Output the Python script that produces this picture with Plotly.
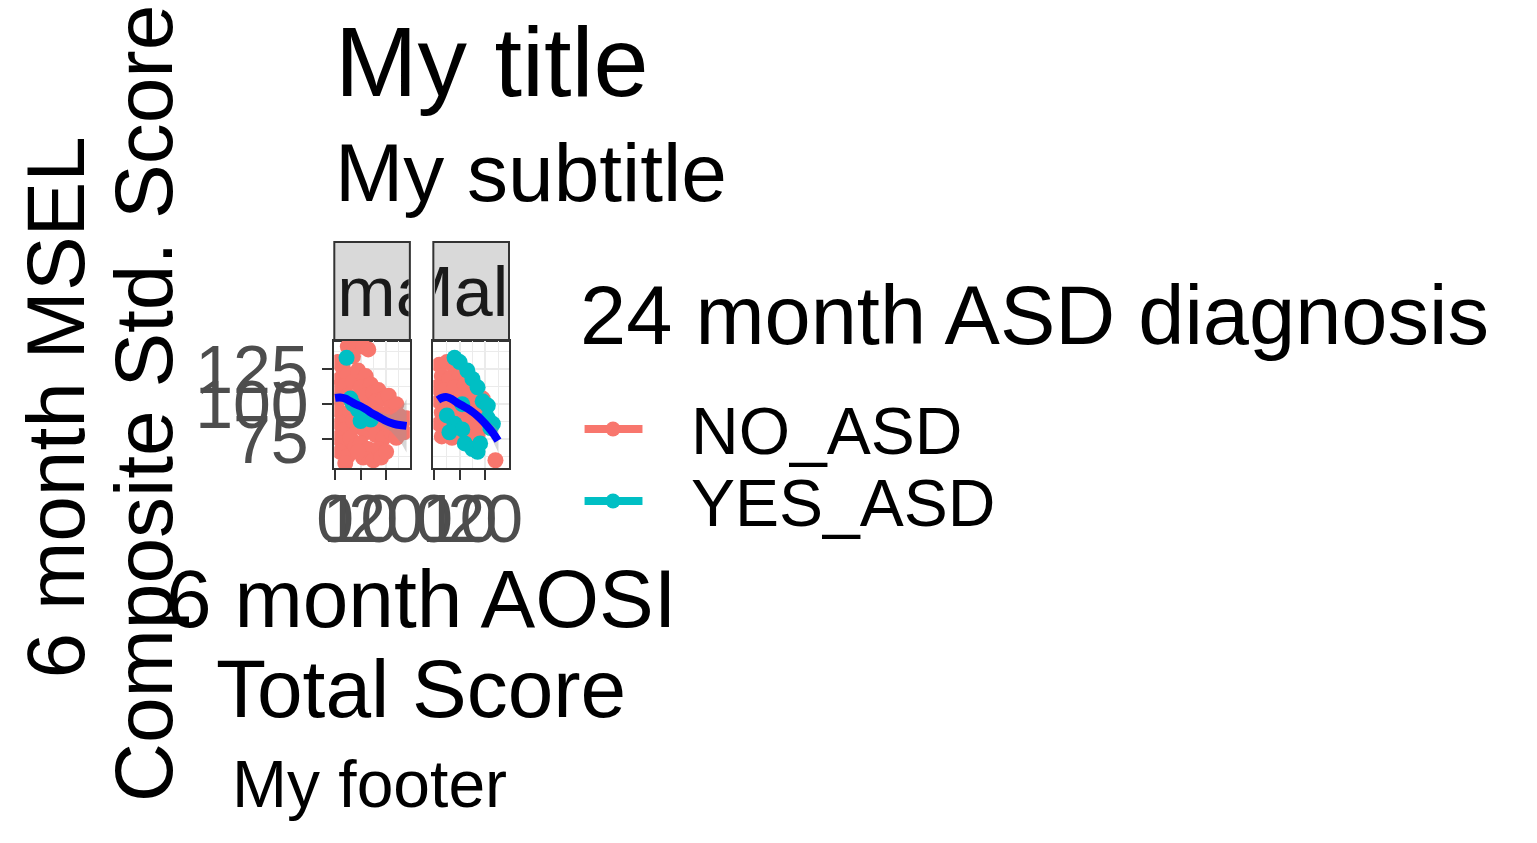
import plotly.graph_objects as go

# ---------------- data ----------------
female_x = [1, 3, 2, 5, 1, 4, 7, 2, 5, 1, 3, 6, 2, 4, 7, 1, 3, 6, 2, 5, 8, 4,
            9, 12, 10, 14, 9, 12, 15, 10, 13, 9, 12, 14, 10, 13, 11, 15, 9,
            17, 16, 19, 17, 18, 16, 19, 17, 18, 20,
            21, 22, 24, 21, 23, 25, 22, 24,
            26, 27, 28,
            5, 8, 11, 13, 7,
            4.5, 7, 9, 12, 14, 6, 10]
female_y = [130, 126, 118, 121, 112, 113, 116, 104, 106, 96, 92, 95, 86, 82, 88, 76, 72, 76, 66, 63, 70, 58,
            124, 120, 112, 114, 104, 106, 108, 94, 96, 84, 80, 86, 72, 68, 62, 60, 66,
            110, 102, 104, 94, 86, 78, 76, 68, 62, 66,
            106, 98, 100, 90, 88, 92, 80, 76,
            86, 80, 90,
            141, 140, 141, 139, 134,
            133, 100, 96, 92, 89, 104, 88]
female_dx = ["NO_ASD"] * 65 + ["YES_ASD"] * 7

male_x = [2, 5, 8, 3, 6, 10, 1, 4, 8, 12, 2, 6, 10, 14, 16, 19, 3, 7, 12, 15, 18, 2, 5, 9, 13, 16,
          3, 7, 10, 14, 17, 24, 20,
          8, 10, 13, 15, 17, 19, 21, 21, 23, 22, 5, 8, 11, 6, 12, 15, 17, 18, 11]
male_y = [128, 130, 126, 120, 118, 120, 112, 110, 112, 114, 102, 104, 104, 106, 100, 104, 94, 96, 96, 92, 94,
          86, 84, 88, 86, 84, 77, 76, 78, 76, 78, 60, 98,
          133, 130, 124, 118, 112, 102, 99, 90, 86, 83, 92, 86, 82, 80, 72, 68, 66, 72, 100]
male_dx = ["NO_ASD"] * 33 + ["YES_ASD"] * 19

# loess fit
female_fit_x = [0, 2, 4, 6, 8, 10, 12, 14, 16, 18, 20, 22, 24, 26, 28]
female_fit_y = [104.5, 104.8, 104, 102, 100, 98.5, 96.5, 94, 92, 90, 88, 86.5, 85.5, 85, 84.5]
female_fit_se = [4, 3, 2.5, 2.5, 2.5, 2.5, 3, 3, 3.5, 4, 5, 6, 9, 13, 19]

male_fit_x = [1.5, 3, 5, 7, 9, 11, 13, 15, 17, 19, 21, 23, 25]
male_fit_y = [103, 104.5, 105, 103.5, 101, 99, 97, 94.5, 91.5, 88, 84, 79.5, 74]
male_fit_se = [4, 3, 2.5, 2.5, 2.5, 2.5, 2.5, 3, 3, 3.5, 4.5, 6, 8]

facets = ["Female", "Male"]
groups = ["NO_ASD", "YES_ASD"]
group_colors = {"NO_ASD": "#F8766D", "YES_ASD": "#00BFC4"}

x_ticks = [0, 10, 20]
y_ticks = [75, 100, 125]
x_range = [-0.3, 29.3]
y_range = [54.5, 145]

title = "My title"
subtitle = "My subtitle"
caption = "My footer"
x_title = ["6 month AOSI", "Total Score"]
y_title = ["6 month MSEL", "Composite Std. Score"]
legend_title = "24 month ASD diagnosis"

# ---------------- layout helpers ----------------
W, H = 1537, 843
PL, PR, PT, PB = 334.0, 509.3, 242.0, 468.0
FONT = "Liberation Sans, Arial, sans-serif"


def px(x):
    return (x - PL) / (PR - PL)


def py(y):
    return (PB - y) / (PB - PT)


panel_top = py(341)
dom1 = [px(334.3), px(410)]
dom2 = [px(433.5), px(509.3)]

fig = go.Figure()

panels = [
    ("x", "y", female_x, female_y, female_dx, female_fit_x, female_fit_y, female_fit_se),
    ("x2", "y2", male_x, male_y, male_dx, male_fit_x, male_fit_y, male_fit_se),
]
for xa, ya, xs, ys, ds, fx, fy, fse in panels:
    fig.add_trace(go.Scatter(
        x=xs, y=ys, mode="markers", xaxis=xa, yaxis=ya, showlegend=False,
        marker=dict(size=16, color=[group_colors[d] for d in ds], line=dict(width=0)),
        hoverinfo="skip"))
    lo = [a - b for a, b in zip(fy, fse)]
    hi = [a + b for a, b in zip(fy, fse)]
    fig.add_trace(go.Scatter(
        x=fx + fx[::-1], y=hi + lo[::-1], mode="lines", fill="toself",
        fillcolor="rgba(153,153,153,0.4)", line=dict(width=0), xaxis=xa, yaxis=ya,
        showlegend=False, hoverinfo="skip"))
    fig.add_trace(go.Scatter(
        x=fx, y=fy, mode="lines", line=dict(color="#0000FF", width=8, shape="spline"),
        xaxis=xa, yaxis=ya, showlegend=False, hoverinfo="skip"))

axis_common = dict(
    showline=True, mirror=True, linecolor="#333333", linewidth=2,
    showgrid=True, gridcolor="#EBEBEB", gridwidth=2, zeroline=False,
    ticks="outside", ticklen=10, tickwidth=2, tickcolor="#333333",
    tickfont=dict(family=FONT, size=68, color="#4D4D4D"),
    tickangle=0, automargin=False,
)
xminor = dict(tickvals=[5, 15, 25], showgrid=True, gridcolor="#EBEBEB", gridwidth=1, ticks="")
yminor = dict(tickvals=[62.5, 87.5, 112.5, 137.5], showgrid=True, gridcolor="#EBEBEB", gridwidth=1, ticks="")

fig.update_layout(
    width=W, height=H,
    margin=dict(l=PL, r=W - PR, t=PT, b=H - PB, pad=0),
    paper_bgcolor="white", plot_bgcolor="white",
    showlegend=False,
    xaxis=dict(domain=dom1, range=x_range, tickmode="array", tickvals=x_ticks,
               anchor="y", minor=xminor, **axis_common),
    xaxis2=dict(domain=dom2, range=x_range, tickmode="array", tickvals=x_ticks,
                anchor="y2", minor=xminor, **axis_common),
    yaxis=dict(domain=[0, panel_top], range=y_range, tickmode="array", tickvals=y_ticks,
               anchor="x", minor=yminor, **axis_common),
    yaxis2=dict(domain=[0, panel_top], range=y_range, tickmode="array", tickvals=y_ticks,
                anchor="x2", minor=yminor, **{**axis_common, "showticklabels": False, "ticks": ""}),
)
try:
    fig.update_xaxes(ticklabelstandoff=-20)
except Exception:
    pass

shapes = []
annotations = []

# facet strips
for dom, name in zip([dom1, dom2], facets):
    shapes.append(dict(type="rect", xref="paper", yref="paper", x0=dom[0], x1=dom[1],
                       y0=panel_top, y1=1.0, fillcolor="#D9D9D9",
                       line=dict(color="#333333", width=2), layer="below"))
    annotations.append(dict(text=name, xref="paper", yref="paper",
                            x=(dom[0] + dom[1]) / 2, y=(panel_top + 1) / 2,
                            xanchor="center", yanchor="middle", showarrow=False,
                            width=(dom[1] - dom[0]) * (PR - PL) - 3, height=95,
                            font=dict(family=FONT, size=70, color="#1A1A1A")))


def txt(text, x, y, size, xanchor="left", angle=0, color="black"):
    annotations.append(dict(text=text, xref="paper", yref="paper", x=px(x), y=py(y),
                            xanchor=xanchor, yanchor="middle", showarrow=False,
                            textangle=angle, font=dict(family=FONT, size=size, color=color)))


txt(title, 333, 61, 99)
txt(subtitle, 333, 172, 82)
txt(x_title[0], 421.5, 598, 82, "center")
txt(x_title[1], 421.5, 688, 82, "center")
txt(y_title[0], 55, 407, 82, "center", -90)
txt(y_title[1], 143, 403, 82, "center", -90)
txt(caption, 509, 784, 66, "right")

# legend
txt(legend_title, 578, 315, 83)
for i, g in enumerate(groups):
    yc = 429 + i * 72
    shapes.append(dict(type="line", xref="paper", yref="paper", x0=px(585), x1=px(643),
                       y0=py(yc), y1=py(yc), line=dict(color=group_colors[g], width=8)))
    shapes.append(dict(type="circle", xref="paper", yref="paper", x0=px(606), x1=px(621),
                       y0=py(yc + 7.5), y1=py(yc - 7.5), fillcolor=group_colors[g],
                       line=dict(width=0)))
    txt(g, 690, yc + 2, 66)

fig.update_layout(shapes=shapes, annotations=annotations)

fig.write_html("out.html")
